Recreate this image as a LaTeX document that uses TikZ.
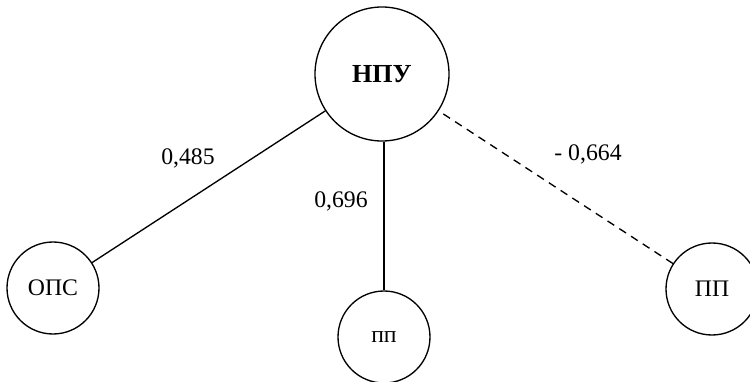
\documentclass[tikz,border=0pt]{standalone}
\usepackage{fontspec}
\setmainfont{Liberation Serif}
\usetikzlibrary{shapes,calc}
\tikzstyle{factor} = [circle, draw, line width=1pt, inner sep=0pt,
    minimum size=69pt, font=\fontsize{17.8}{20}\selectfont]
\tikzstyle{main} = [factor, minimum size=100.5pt, font=\fontsize{19.5}{22}\selectfont\bfseries]
\tikzstyle{link} = [draw, line width=1pt]
\tikzstyle{weight} = [font=\fontsize{17.8}{20}\selectfont, inner sep=0pt]

\begin{document}
\begin{tikzpicture}[x=0.75pt, y=-0.75pt]
\useasboundingbox (0,0) rectangle (750,382);
%% Place nodes
\node [main] (npu) at (382,74) {НПУ};
\node [factor] (ops) at (53,288) {ОПС};
\node [factor] (pp) at (384,337) {пп};
\node [factor] (PP) at (712,289) {ПП};

%% Weights
\node [weight] (w1) at (188,158) {0,485};
\node [weight] (w2) at (341,201) {0,696};
\node [weight] (w3) at (588,154) {- 0,664};

%% Draw lines between circles
\path [link] (ops) -- (npu);
\path [link] (pp.north) -- (pp.north |- npu.south);
\path [link, dash pattern=on 6pt off 4.5pt] (PP) -- (npu);
\end{tikzpicture}
\end{document}
